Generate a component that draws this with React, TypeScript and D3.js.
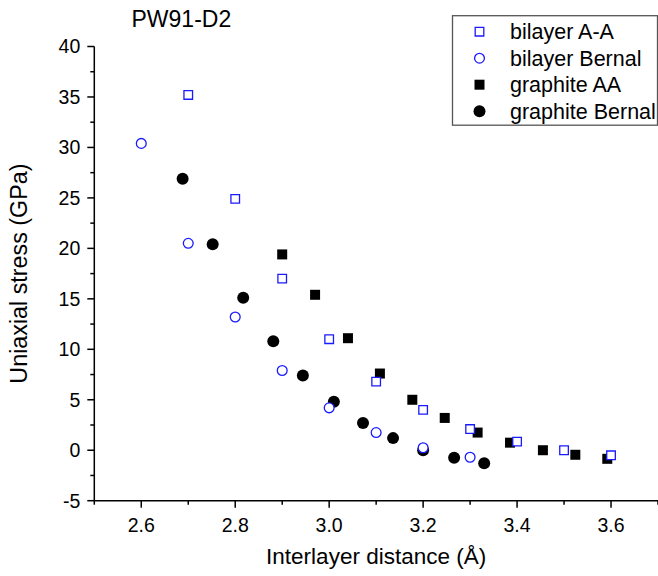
import React from "react";
import * as d3 from "d3";

const bilayerAAx = [2.7, 2.8, 2.9, 3.0, 3.1, 3.2, 3.3, 3.4, 3.5, 3.6];
const bilayerAAy = [35.2, 24.9, 17.0, 11.0, 6.8, 4.0, 2.1, 0.85, 0.0, -0.5];

const bilayerBernalX = [2.6, 2.7, 2.8, 2.9, 3.0, 3.1, 3.2, 3.3];
const bilayerBernalY = [30.4, 20.5, 13.2, 7.9, 4.2, 1.75, 0.25, -0.7];

const graphiteAAx = [2.9, 2.97, 3.04, 3.108, 3.177, 3.246, 3.316, 3.385, 3.455, 3.524, 3.592];
const graphiteAAy = [19.4, 15.4, 11.1, 7.6, 5.0, 3.2, 1.75, 0.75, 0.0, -0.45, -0.85];

const graphiteBernalX = [2.688, 2.752, 2.817, 2.881, 2.944, 3.01, 3.072, 3.136, 3.2, 3.266, 3.33];
const graphiteBernalY = [26.9, 20.4, 15.1, 10.8, 7.4, 4.8, 2.7, 1.2, 0.0, -0.75, -1.3];

const xTickValues = [2.6, 2.8, 3.0, 3.2, 3.4, 3.6];
const xMinorValues = [2.5, 2.7, 2.9, 3.1, 3.3, 3.5, 3.7];
const yTickValues = [-5, 0, 5, 10, 15, 20, 25, 30, 35, 40];
const yMinorValues = [-2.5, 2.5, 7.5, 12.5, 17.5, 22.5, 27.5, 32.5, 37.5];

const legendLabels = ["bilayer A-A", "bilayer Bernal", "graphite AA", "graphite Bernal"];

const FONT = "'Liberation Sans', Arial, sans-serif";
const BLUE = "#1a1aff";

function zip(xs: number[], ys: number[]) {
  return xs.map((x, i) => ({ x, y: ys[i] }));
}

export default function App() {
  const W = 658;
  const H = 576;
  const x = d3.scaleLinear().domain([2.5, 3.7]).range([94.3, 658]);
  const y = d3.scaleLinear().domain([-5, 40]).range([500.7, 46.5]);
  const x0 = x(2.5);
  const yb = y(-5);

  const sq = (px: number, py: number, s: number) => `M${px - s / 2},${py - s / 2}h${s}v${s}h${-s}Z`;

  const marker = (kind: number, px: number, py: number, key: string | number) => {
    if (kind === 0)
      return <path key={key} d={sq(px, py, 8.6)} fill="#fff" stroke={BLUE} strokeWidth={1.3} />;
    if (kind === 1)
      return <circle key={key} cx={px} cy={py} r={4.9} fill="#fff" stroke={BLUE} strokeWidth={1.3} />;
    if (kind === 2) return <path key={key} d={sq(px, py, 10)} fill="#000" />;
    return <circle key={key} cx={px} cy={py} r={6} fill="#000" />;
  };

  const series = [
    { kind: 2, pts: zip(graphiteAAx, graphiteAAy) },
    { kind: 3, pts: zip(graphiteBernalX, graphiteBernalY) },
    { kind: 0, pts: zip(bilayerAAx, bilayerAAy) },
    { kind: 1, pts: zip(bilayerBernalX, bilayerBernalY) },
  ];

  const legendKinds = [0, 1, 2, 3];

  return (
    <svg
      width={W}
      height={H}
      style={{ position: "absolute", left: 0, top: 0, background: "#fff" }}
      fontFamily={FONT}
    >
      <rect x={0} y={0} width={W} height={H} fill="#fff" />
      {/* axes */}
      <line x1={x0} x2={x0} y1={y(40)} y2={yb} stroke="#000" strokeWidth={1.5} />
      <line x1={x0} x2={W} y1={yb} y2={yb} stroke="#000" strokeWidth={1.5} />
      {yTickValues.map((v) => (
        <g key={"yt" + v}>
          <line x1={x0 - 7} x2={x0} y1={y(v)} y2={y(v)} stroke="#000" strokeWidth={1.5} />
          <text x={x0 - 14} y={y(v)} dy="0.35em" textAnchor="end" fontSize={19.5} fill="#000">
            {String(v)}
          </text>
        </g>
      ))}
      {yMinorValues.map((v) => (
        <line key={"ym" + v} x1={x0 - 4} x2={x0} y1={y(v)} y2={y(v)} stroke="#000" strokeWidth={1.5} />
      ))}
      {xTickValues.map((v) => (
        <g key={"xt" + v}>
          <line x1={x(v)} x2={x(v)} y1={yb} y2={yb + 7} stroke="#000" strokeWidth={1.5} />
          <text x={x(v)} y={yb + 31} textAnchor="middle" fontSize={19.5} fill="#000">
            {d3.format(".1f")(v)}
          </text>
        </g>
      ))}
      {xMinorValues.map((v) => (
        <line key={"xm" + v} x1={x(v)} x2={x(v)} y1={yb} y2={yb + 4} stroke="#000" strokeWidth={1.5} />
      ))}
      {/* labels */}
      <text x={(x0 + W) / 2} y={564} textAnchor="middle" fontSize={22.5} fill="#000">
        Interlayer distance (Å)
      </text>
      <text
        transform={`translate(27,${(y(40) + yb) / 2}) rotate(-90)`}
        textAnchor="middle"
        fontSize={23.3}
        fill="#000"
      >
        Uniaxial stress (GPa)
      </text>
      <text x={131.5} y={26.7} fontSize={23} fill="#000">
        PW91-D2
      </text>
      {/* data */}
      {series.map((s, si) => (
        <g key={"s" + si}>{s.pts.map((p, i) => marker(s.kind, x(p.x), y(p.y), i))}</g>
      ))}
      {/* legend */}
      <rect x={452.5} y={15.7} width={205} height={109.5} fill="#fff" stroke="#555" strokeWidth={1.3} />
      {legendLabels.map((lab, i) => {
        const ly = 31.7 + i * 26.5;
        return (
          <g key={"lg" + i}>
            {marker(legendKinds[i], 479.5, ly, "m")}
            <text x={510} y={ly} dy="0.35em" fontSize={21.5} fill="#000">
              {lab}
            </text>
          </g>
        );
      })}
    </svg>
  );
}
